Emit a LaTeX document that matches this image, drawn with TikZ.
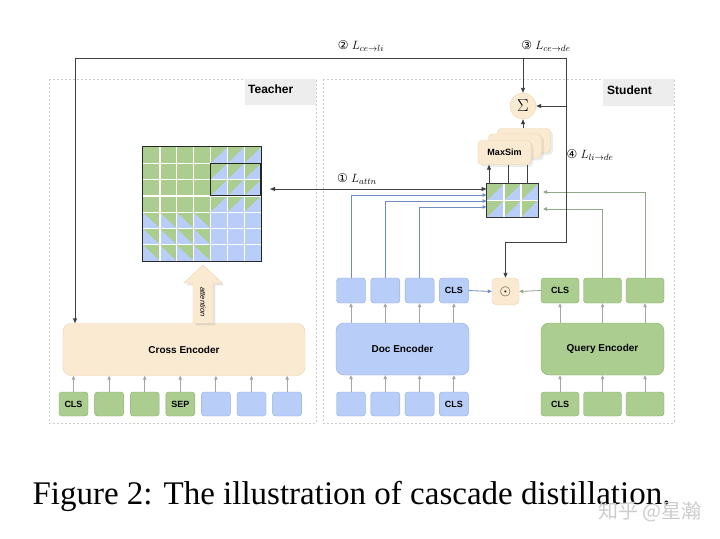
\documentclass[tikz,border=0pt]{standalone}
\usepackage{fontspec}
\setmainfont{Liberation Serif}
\setsansfont{Liberation Sans}
\newfontfamily\circfont{DejaVu Sans}
\newfontfamily\cjkfont{Noto Sans CJK SC}
\usepackage{xcolor}
\usepackage{tikz}
\usetikzlibrary{arrows.meta, positioning, calc, shadows}

\definecolor{tokgreen}{HTML}{ABCD8F}
\definecolor{tokgreenline}{HTML}{86AE6C}
\definecolor{tokblue}{HTML}{B8CDF8}
\definecolor{tokblueline}{HTML}{93ACDC}
\definecolor{encbeige}{HTML}{FBEAD2}
\definecolor{encbeigeline}{HTML}{EDD2A8}
\definecolor{flowblue}{HTML}{6F8CC4}
\definecolor{flowgreen}{HTML}{8FA88A}
\definecolor{labelgray}{HTML}{EDEDED}

\tikzset{
  token/.style={draw, rounded corners=3pt, minimum height=24pt, inner sep=0pt,
    font=\sffamily\bfseries\fontsize{9}{9}\selectfont},
  tokg/.style={token, fill=tokgreen, draw=tokgreenline},
  tokb/.style={token, fill=tokblue, draw=tokblueline},
  encoder/.style={rounded corners=8pt, inner sep=0pt, minimum height=52pt,
    font=\sffamily\bfseries\fontsize{10}{10}\selectfont},
  card/.style={draw=encbeigeline, fill=encbeige, rounded corners=4pt, inner sep=0pt,
    minimum width=53pt, minimum height=24pt, drop shadow={opacity=0.15},
    font=\sffamily\bfseries\fontsize{9}{9}\selectfont},
  frame/.style={draw=gray!40, dashed, dash pattern=on 2pt off 2pt, line width=0.6pt},
  tag/.style={font=\sffamily\bfseries\fontsize{12}{12}\selectfont, anchor=west, inner sep=0pt},
  losslbl/.style={font=\fontsize{13}{13}\selectfont, inner sep=0pt},
  arr/.style={-{Triangle[length=5pt,width=4pt]}, draw=black!75, line width=0.9pt},
  tokarr/.style={-{Triangle[length=4pt,width=3.5pt]}, draw=gray!70, line width=1pt},
  bluearr/.style={-{Triangle[length=4pt,width=3.5pt]}, draw=flowblue, line width=0.8pt},
  greenarr/.style={-{Triangle[length=4pt,width=3.5pt]}, draw=flowgreen, line width=0.8pt},
}

\begin{document}
\begin{tikzpicture}[x=1pt, y=-1pt]
    \useasboundingbox (0,0) rectangle (720,538);
    \fill[white] (0,0) rectangle (720,538);

    % Cell size of the attention matrix
    \def\cw{16.86}
    \def\ch{16.29}

    % Frames
    \draw[frame] (49,79) rectangle (316,423);
    \draw[frame] (323,79) rectangle (674,423);
    \fill[labelgray] (245,79) rectangle (316,105);
    \fill[labelgray] (603,79) rectangle (674,106);
    \node[tag] (teacher) at (248,89) {Teacher};
    \node[tag] (student) at (607,90) {Student};

    % Teacher tokens
    \foreach \i/\txt/\st in {0/CLS/tokg, 1//tokg, 2//tokg, 3/SEP/tokg, 4//tokb, 5//tokb, 6//tokb} {
        \node[\st, minimum width=29pt] (t\i) at ({73.5+\i*35.6},404) {\txt};
    }

    % Cross encoder
    \node[encoder, draw=encbeigeline, fill=encbeige, minimum width=242pt] (cross) at (184,349.5) {Cross Encoder};
    \foreach \i in {0,...,6} {
        \draw[tokarr] (t\i.north) -- (t\i.north |- cross.south);
    }

    % Attention arrow
    \filldraw[fill=encbeige, draw=encbeigeline, drop shadow={opacity=0.2}]
        (193,323) -- (193,283) -- (184,283) -- (203,265) -- (222,283) -- (213,283) -- (213,323);
    \node[rotate=-90, font=\sffamily\itshape\fontsize{7.5}{7.5}\selectfont] (attnlbl) at (203,302) {attention};

    % Attention matrix of the teacher
    \node[minimum width=118pt, minimum height=114pt, inner sep=0pt] (bigmat) at (202,204) {};
    \fill[tokblue] (143,147) rectangle ++(7*\cw,7*\ch);
    \fill[tokgreen] (143,147) rectangle ++(4*\cw,4*\ch);
    \foreach \i in {4,5,6} {
        \foreach \j in {0,...,3} {
            \fill[tokgreen] ({143+\i*\cw},{147+\j*\ch}) -- ++(\cw,0) -- ++(-\cw,\ch) -- cycle;
        }
    }
    \foreach \i in {0,...,3} {
        \foreach \j in {4,5,6} {
            \fill[tokgreen] ({143+\i*\cw},{147+\j*\ch}) -- ++(\cw,0) -- ++(0,\ch) -- cycle;
        }
    }
    \foreach \k in {1,...,6} {
        \draw[white, line width=1.3pt] ({143+\k*\cw},147) -- ++(0,7*\ch);
        \draw[white, line width=1.3pt] (143,{147+\k*\ch}) -- ++(7*\cw,0);
    }
    \draw[black!85, line width=1pt] (bigmat.north west) rectangle (bigmat.south east);
    \draw[black!85, line width=1.2pt] ({143+4*\cw},{147+\ch}) rectangle ({143+7*\cw},{147+3*\ch});

    % Doc side
    \foreach \i/\txt in {0/, 1/, 2/, 3/CLS} {
        \node[tokb, minimum width=29pt] (d\i) at ({351+\i*34.3},404) {\txt};
        \node[tokb, minimum width=29pt, minimum height=25pt] (e\i) at ({351+\i*34.3},290.5) {\txt};
    }
    \node[encoder, draw=tokblueline, fill=tokblue, minimum width=133pt] (doc) at (402.5,349) {Doc Encoder};
    \foreach \i in {0,...,3} {
        \draw[tokarr] (d\i.north) -- (d\i.north |- doc.south);
        \draw[tokarr] (e\i.south |- doc.north) -- (e\i.south);
    }

    % Query side
    \foreach \i/\txt in {0/CLS, 1/, 2/} {
        \node[tokg, minimum width=38pt] (q\i) at ({560+\i*42.5},404) {\txt};
        \node[tokg, minimum width=38pt, minimum height=25pt] (r\i) at ({560+\i*42.5},290.5) {\txt};
    }
    \node[encoder, draw=tokgreenline, fill=tokgreen, minimum width=123pt] (query) at (602.5,349) {Query Encoder};
    \foreach \i in {0,...,2} {
        \draw[tokarr] (q\i.north) -- (q\i.north |- query.south);
        \draw[tokarr] (r\i.south |- query.north) -- (r\i.south);
    }

    % Dot product of the CLS vectors
    \node[draw=encbeigeline, fill=encbeige, rounded corners=5pt, minimum size=27pt, inner sep=0pt,
        font=\fontsize{14}{14}\selectfont] (dotp) at (505.5,291.5) {$\odot$};
    \draw[bluearr] (e3.east) -- (dotp.west);
    \draw[greenarr] (r0.west) -- (dotp.east);

    % Late interaction matrix of the student
    \node[draw=black!80, line width=0.8pt, minimum width=51pt, minimum height=33pt, inner sep=0pt] (smat) at (512.5,200.5) {};
    \fill[tokblue] (smat.north west) rectangle (smat.south east);
    \foreach \i in {0,1,2} {
        \foreach \j in {0,1} {
            \fill[tokgreen] ({487+\i*17},{184+\j*16.5}) -- ++(17,0) -- ++(-17,16.5) -- cycle;
        }
    }
    \draw[white, line width=1.2pt] (504,184) -- (504,217);
    \draw[white, line width=1.2pt] (521,184) -- (521,217);
    \draw[white, line width=1.2pt] (487,200.5) -- (538,200.5);
    \draw[black!80, line width=0.8pt] (smat.north west) rectangle (smat.south east);

    % Token vectors into the student matrix
    \draw[bluearr] (e0.north) |- (smat.west |- 0,195);
    \draw[bluearr] (e1.north) |- (smat.west |- 0,201);
    \draw[bluearr] (e2.north) |- (smat.west |- 0,207);
    \draw[greenarr] (r2.north) |- (543,192);
    \draw[greenarr] (r1.north) |- (543,209);

    % MaxSim cards and sum
    \node[card] (ms3) at (524,140.5) {};
    \node[card] (ms2) at (515,146) {};
    \node[card] (ms1) at (504.5,152.5) {MaxSim};
    \draw[arr] (489,184) -- (489,184 |- ms1.south);
    \draw[black!75, line width=0.9pt] (508,184) -- (508,184 |- ms1.south);
    \draw[black!75, line width=0.9pt] (527,184) -- (527,184 |- ms1.south);
    \node[circle, draw=encbeigeline, fill=encbeige, minimum size=26pt, inner sep=0pt,
        font=\fontsize{16}{16}\selectfont] (sumc) at (523,106) {$\Sigma$};
    \draw[arr] (ms3.north -| sumc) -- (sumc.south);

    % Loss connectors
    \coordinate (topL) at (75,58);
    \coordinate (topR) at (566,58);
    \draw[arr] (topR) -- (topL) -- (topL |- cross.north);
    \draw[arr] (topR) -- (566,242) -| (dotp.north);
    \draw[arr] (topR |- sumc.east) -- (sumc.east);
    \draw[arr] (sumc.north |- topL) -- (sumc.north);
    \draw[arr, {Triangle[length=5pt,width=4pt]}-{Triangle[length=5pt,width=4pt]}]
        (270,189) -- (smat.west |- 0,189);

    % Loss labels
    \node[losslbl] (l2) at (361,46) {{\circfont\fontsize{12}{12}\selectfont ②} $L_{ce\rightarrow li}$};
    \node[losslbl] (l3) at (546,46) {{\circfont\fontsize{12}{12}\selectfont ③} $L_{ce\rightarrow de}$};
    \node[losslbl] (l4) at (590,155) {{\circfont\fontsize{12}{12}\selectfont ④} $L_{li\rightarrow de}$};
    \node[losslbl] (l1) at (357,179) {{\circfont\fontsize{12}{12}\selectfont ①} $L_{attn}$};

    % Caption
    \node[font=\fontsize{33}{33}\selectfont, inner sep=0pt] (caption) at (351.5,496) {Figure 2: The illustration of cascade distillation.};
    \node[font=\cjkfont\fontsize{20}{20}\selectfont, text=gray!40, inner sep=0pt] (mark) at (650,512) {知乎 @星瀚};
\end{tikzpicture}
\end{document}
